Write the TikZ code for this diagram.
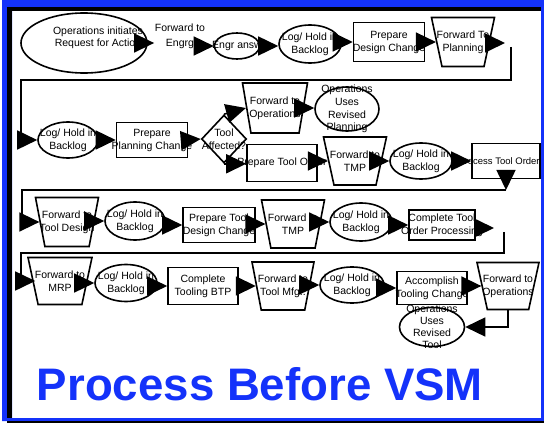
\documentclass[tikz,border=0pt]{standalone}
\usepackage{fontspec}
\setmainfont{Liberation Sans}
\usetikzlibrary{shapes.geometric,arrows.meta}
\definecolor{vsmblue}{RGB}{20,50,250}
\tikzset{
  lbl/.style={label={[align=center,font=\fontsize{10.5}{13}\selectfont]center:{#1}}},
  ell/.style n args={2}{draw, ellipse, fill=white, inner sep=0pt, minimum width=#1, minimum height=#2},
  boxn/.style n args={2}{draw, rectangle, fill=white, inner sep=0pt, minimum width=#1, minimum height=#2},
  dia/.style n args={2}{draw, diamond, fill=white, inner sep=1pt, minimum width=#1, minimum height=#2},
  trap/.style n args={3}{draw, trapezium, shape border rotate=180, trapezium stretches=true, fill=white, inner sep=1pt, minimum width=#1, minimum height=#2, trapezium angle=#3},
  txt/.style={align=center, inner sep=0pt, font=\fontsize{10.5}{15}\selectfont},
  arr/.style={-{Triangle[length=20pt,width=19pt]}},
}
\begin{document}
\begin{tikzpicture}[x=1pt,y=-1pt,line width=1.6pt]
\useasboundingbox (0,0) rectangle (544,425);
\fill[white] (0,0) rectangle (544,425);
% row 1
\node[ell={126}{60}, label={[align=center,font=\fontsize{10.5}{12}\selectfont,xshift=14pt,yshift=5pt]center:{Operations initiates\\Request for Action}}] (n1) at (84,43) {};
\node[txt] (n2) at (180,36) {Forward to\\Engrg};
\node[ell={45}{26}, lbl={Engr answ}] (n3) at (237,46) {};
\node[ell={62}{38}, lbl={Log/ Hold in\\Backlog}] (n4) at (310,44) {};
\node[boxn={71}{39}, lbl={Prepare\\Design Change}] (n5) at (389,42) {};
\node[trap={63}{49}{76}, lbl={Forward To\\Planning}] (n6) at (463,42) {};
\coordinate (c1) at (505,43);
\coordinate (c2) at (511,47);
\coordinate (b1) at (21,80);
% row 2
\node[ell={60}{36}, lbl={Log/ Hold in\\Backlog}] (n7) at (68,140) {};
\node[boxn={71}{35}, lbl={Prepare\\Planning Change}] (n8) at (152,140) {};
\node[dia={45}{48}, lbl={Tool\\Affected?}] (n9) at (224,139) {};
\node[trap={65}{50}{80}, lbl={Forward to\\Operations}] (n10) at (275,108) {};
\node[ell={64}{44}, label={[align=center,font=\fontsize{10.5}{12.7}\selectfont]center:{Operations\\Uses\\Revised\\Planning}}] (n11) at (347,109) {};
\node[boxn={70}{37}, lbl={Prepare Tool Order}] (n12) at (282,163) {};
\node[trap={63}{48}{76}, lbl={Forward to\\TMP}] (n13) at (355,161) {};
\node[ell={62}{36}, lbl={Log/ Hold in\\Backlog}] (n14) at (421,161) {};
\node[boxn={68}{35}, label={[font=\fontsize{9.5}{12}\selectfont,xshift=-7pt]center:{Process Tool Order}}] (n15) at (506,161) {};
\coordinate (c3) at (506,190);
\coordinate (c5) at (22,190);
% row 3
\node[trap={63}{49}{78}, lbl={Forward to\\Tool Design}] (n16) at (67,222) {};
\node[ell={60}{38}, lbl={Log/ Hold in\\Backlog}] (n17) at (135,221) {};
\node[boxn={72}{35}, lbl={Prepare Tool\\Design Change}] (n18) at (219,225) {};
\node[trap={63}{48}{78}, lbl={Forward to\\TMP}] (n19) at (293,224) {};
\node[ell={62}{38}, lbl={Log/ Hold in\\Backlog}] (n20) at (361,222) {};
\node[boxn={66}{30}, lbl={Complete Tool\\Order Processing}] (n21) at (442,225) {};
\coordinate (c4) at (494,228);
\coordinate (c6) at (504,232);
\coordinate (c7) at (21,253);
% row 4
\node[trap={64}{47}{77}, lbl={Forward to\\MRP}] (n22) at (60,281) {};
\node[ell={62}{37}, lbl={Log/ Hold in\\Backlog}] (n23) at (126,283) {};
\node[boxn={70}{37}, lbl={Complete\\Tooling BTP}] (n24) at (203,286) {};
\node[trap={62}{48}{78}, lbl={Forward to\\Tool Mfg..}] (n25) at (283,286) {};
\node[ell={64}{36}, lbl={Log/ Hold in\\Backlog}] (n26) at (352,285) {};
\node[boxn={70}{33}, lbl={Accomplish\\Tooling Change}] (n27) at (432,288) {};
\node[trap={62}{47}{76}, lbl={Forward to\\Operations}] (n28) at (508,286) {};
\node[ell={65}{39}, label={[align=center,font=\fontsize{10.5}{12}\selectfont]center:{Operations\\Uses\\Revised\\Tool}}] (n29) at (432,327) {};
% connectors
\draw[arr] (n1.east) -- (n1.east -| n2.west);
\draw[arr] (n2.east |- n3.west) -- (n3.west);
\draw[arr] (n3.east) -- (n3.east -| n4.west);
\draw[arr] (n4.east |- n5.west) -- (n5.west);
\draw[arr] (n5.east) -- (n6.west);
\draw[arr] (n6.east |- c1) -- (c1);
\draw[arr] (c2) |- (b1) |- (n7.west);
\draw[arr] (n7.east) -- (n8.west);
\draw[arr] (n8.east) -- (n9.west);
\draw[arr] (n9.north) -- (n10.west);
\draw[arr] (n9.south) -- (n9.south -| n12.west);
\draw[arr] (n10.east) -- (n10.east -| n11.west);
\draw[arr] (n12.east |- n13.west) -- (n13.west);
\draw[arr] (n13.east) -- (n13.east -| n14.west);
\draw[arr] (n14.east) -- (n14.east -| n15.west);
\draw[arr] (n15.south) -- (c3);
\draw[arr] (c3) -- (c5) |- (n16.west);
\draw[arr] (n16.east |- n17.west) -- (n17.west);
\draw[arr] (n17.east |- n18.west) -- (n18.west);
\draw[arr] (n18.east |- n19.west) -- (n19.west);
\draw[arr] (n19.east |- n20.west) -- (n20.west);
\draw[arr] (n20.east |- n21.west) -- (n21.west);
\draw[arr] (n21.east |- c4) -- (c4);
\draw[arr] (c6) |- (c7) |- ([xshift=3pt]n22.west);
\draw[arr] (n22.east |- n23.west) -- (n23.west);
\draw[arr] (n23.east |- n24.west) -- (n24.west);
\draw[arr] (n24.east |- n25.west) -- (n25.west);
\draw[arr] (n25.east |- n26.west) -- (n26.west);
\draw[arr] (n26.east |- n27.west) -- (n27.west);
\draw[arr] (n27.east |- n28.west) -- (n28.west);
\draw[arr] (n28.south) |- (n29.east);
% title
\node[anchor=base, inner sep=0pt, text=vsmblue, font=\fontsize{45.6}{50}\bfseries\selectfont] (title) at (260,400) {Process Before VSM};
% frame
\fill[vsmblue, even odd rule] (2,0) rectangle (544,421) (12,11) rectangle (541,418);
\fill[black] (7,7) rectangle (541,11);
\fill[black] (7,7) rectangle (12,418);
\fill[black] (7,421) rectangle (544,423);
\end{tikzpicture}
\end{document}
